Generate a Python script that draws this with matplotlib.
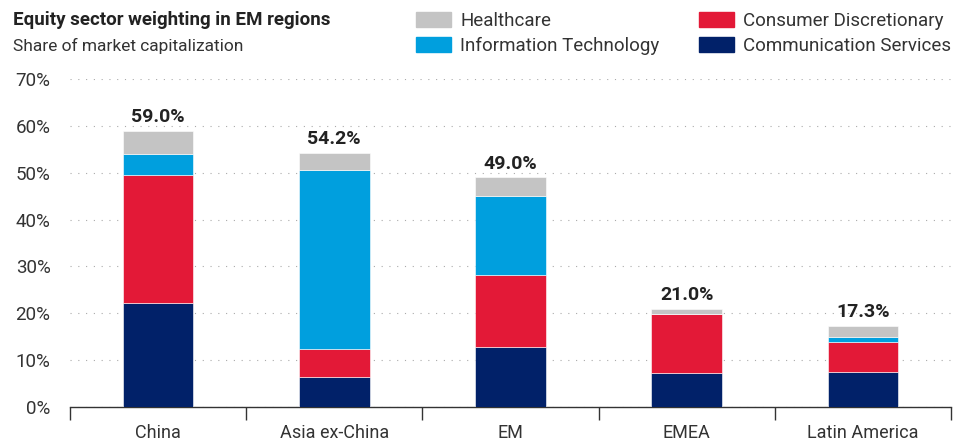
import numpy as np
import matplotlib.pyplot as plt
from matplotlib.patches import Patch

plt.rcParams['font.family'] = ['Roboto', 'DejaVu Sans']

# Data (share of market cap, %)
regions = ['China', 'Asia ex-China', 'EM', 'EMEA', 'Latin America']
comm_services = [22.2, 6.3, 12.8, 7.2, 7.5]
consumer_disc = [27.4, 6.0, 15.3, 12.7, 6.3]
info_tech = [4.3, 38.3, 17.0, 0.0, 1.2]
healthcare = [5.1, 3.6, 3.9, 1.1, 2.3]
totals = [59.0, 54.2, 49.0, 21.0, 17.3]

colors = {
    'Healthcare': '#c4c4c4',
    'Information Technology': '#009fde',
    'Consumer Discretionary': '#e31937',
    'Communication Services': '#012169',
}
text_color = '#333333'

fig = plt.figure(figsize=(9.68, 4.41), dpi=100)
ax = fig.add_axes([70 / 968, 34 / 441, 881 / 968, 328 / 441])

x = np.arange(len(regions))
width = 0.4
bottom = np.zeros(len(regions))
stack = [
    ('Communication Services', comm_services),
    ('Consumer Discretionary', consumer_disc),
    ('Information Technology', info_tech),
    ('Healthcare', healthcare),
]
for name, vals in stack:
    vals = np.array(vals)
    ax.bar(x, vals, width, bottom=bottom, color=colors[name],
           edgecolor='white', linewidth=0.4, zorder=3)
    bottom += vals

for xi, top, tot in zip(x, bottom, totals):
    ax.text(xi, top + 1.0, f'{tot:.1f}%', ha='center', va='bottom',
            fontsize=14, fontweight='bold', color='#222222')

ax.set_xlim(-0.5, len(regions) - 0.5)
ax.set_ylim(0, 70)
ax.set_yticks(np.arange(0, 71, 10))
ax.set_yticklabels([f'{v}%' for v in range(0, 71, 10)])
ax.yaxis.grid(True, linestyle=(0, (1, 6)), color='#aaaaaa', linewidth=0.8)
ax.set_axisbelow(True)

# boundary ticks on x axis, labels at category centers
ax.set_xticks(np.arange(-0.5, len(regions), 1.0))
ax.set_xticklabels([])
ax.set_xticks(x, minor=True)
ax.set_xticklabels(regions, minor=True)
ax.tick_params(axis='x', which='major', length=9, width=1, color='#333333', direction='out')
ax.tick_params(axis='x', which='minor', length=0, pad=12, labelsize=13, labelcolor=text_color)
ax.tick_params(axis='y', length=0, pad=14, labelsize=13.5, labelcolor=text_color)

for s in ['top', 'right', 'left']:
    ax.spines[s].set_visible(False)
ax.spines['bottom'].set_color('#333333')
ax.spines['bottom'].set_linewidth(1)

fig.text(13 / 968, 1 - 20 / 441, 'Equity sector weighting in EM regions',
         fontsize=13.5, fontweight='bold', color='#222222', va='center')
fig.text(13 / 968, 1 - 46 / 441, 'Share of market capitalization',
         fontsize=12.5, color=text_color, va='center')

legend_cols = [
    (416, ['Healthcare', 'Information Technology']),
    (699, ['Consumer Discretionary', 'Communication Services']),
]
for x_px, names in legend_cols:
    leg = fig.legend([Patch(color=colors[n]) for n in names], names,
                     loc='upper left', bbox_to_anchor=(x_px / 968, 1 - 12 / 441),
                     borderaxespad=0, borderpad=0, frameon=False,
                     fontsize=13.5, handlelength=1.87, handleheight=0.85,
                     labelspacing=0.35, handletextpad=0.5)
    for t in leg.get_texts():
        t.set_color(text_color)

fig.savefig('out.png', dpi=100)
